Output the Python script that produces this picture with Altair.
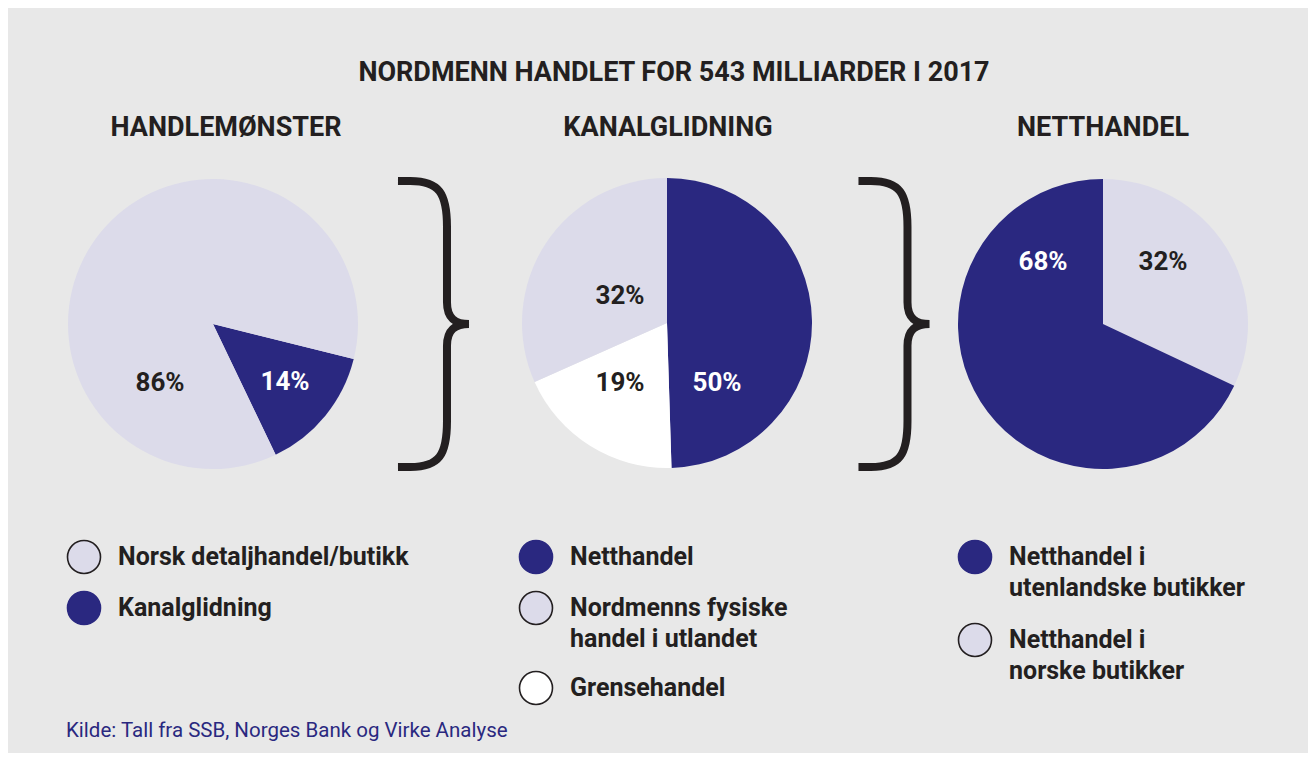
import math
import altair as alt
import pandas as pd

# ---------------- data ----------------
TITLE = "NORDMENN HANDLET FOR 543 MILLIARDER I 2017"
HEADINGS = ["HANDLEMØNSTER", "KANALGLIDNING", "NETTHANDEL"]

PIE1_CATS = ["Kanalglidning", "Norsk detaljhandel/butikk"]
PIE1_VALUES = [14, 86]

PIE2_CATS = ["Netthandel", "Grensehandel", "Nordmenns fysiske\nhandel i utlandet"]
PIE2_VALUES = [50, 19, 32]

PIE3_CATS = ["Netthandel i\nnorske butikker", "Netthandel i\nutenlandske butikker"]
PIE3_VALUES = [32, 68]

LEGEND1 = ["Norsk detaljhandel/butikk", "Kanalglidning"]
LEGEND2 = ["Netthandel", "Nordmenns fysiske\nhandel i utlandet", "Grensehandel"]
LEGEND3 = ["Netthandel i\nutenlandske butikker", "Netthandel i\nnorske butikker"]

SOURCE = "Kilde: Tall fra SSB, Norges Bank og Virke Analyse"

# ---------------- styles ----------------
BG = "#e8e8e8"
NAVY = "#2a2880"
LAV = "#dcdbea"
WHITE = "#ffffff"
INK = "#231f20"
FONT = "Roboto"

W, H = 1300, 745
R = 145

COLOR_OF = {
    "Kanalglidning": NAVY,
    "Norsk detaljhandel/butikk": LAV,
    "Netthandel": NAVY,
    "Grensehandel": WHITE,
    "Nordmenns fysiske\nhandel i utlandet": LAV,
    "Netthandel i\nnorske butikker": LAV,
    "Netthandel i\nutenlandske butikker": NAVY,
}

# layout: (cats, values, center, start angle in degrees, label positions)
PIES = [
    (PIE1_CATS, PIE1_VALUES, (205, 316), 104, [(277, 374), (152, 375)]),
    (PIE2_CATS, PIE2_VALUES, (659, 315), 0, [(709, 375), (612, 375), (612, 288)]),
    (PIE3_CATS, PIE3_VALUES, (1095, 316), 0, [(1155, 254), (1035, 254)]),
]

layers = []
label_rows = []
for cats, vals, (cx, cy), start, lpos in PIES:
    df = pd.DataFrame({"cat": cats, "value": vals, "order": list(range(len(cats)))})
    a0 = math.radians(start)
    layers.append(
        alt.Chart(df)
        .mark_arc(outerRadius=R, strokeWidth=0)
        .encode(
            theta=alt.Theta("value:Q", stack=True,
                            scale=alt.Scale(range=[a0, a0 + 2 * math.pi])),
            color=alt.Color("cat:N", scale=alt.Scale(domain=cats,
                            range=[COLOR_OF[c] for c in cats]), legend=None),
            order=alt.Order("order:Q"),
            x=alt.value(cx),
            y=alt.value(cy),
        )
    )
    for c, v, (px, py) in zip(cats, vals, lpos):
        label_rows.append({"px": px, "py": py, "text": f"{v}%",
                           "tc": WHITE if COLOR_OF[c] == NAVY else INK})

labels = pd.DataFrame(label_rows)
layers.append(
    alt.Chart(labels)
    .mark_text(font=FONT, fontWeight="bold", fontSize=26, baseline="middle", align="center")
    .encode(x=alt.X("px:Q", scale=None), y=alt.Y("py:Q", scale=None),
            text="text:N", color=alt.Color("tc:N", scale=None))
)

# titles
titles = pd.DataFrame({
    "px": [666, 218, 660, 1095],
    "py": [65, 120, 120, 120],
    "text": [TITLE] + HEADINGS,
})
layers.append(
    alt.Chart(titles)
    .mark_text(font=FONT, fontWeight="bold", fontSize=27, color=INK,
               baseline="middle", align="center")
    .encode(x=alt.X("px:Q", scale=None), y=alt.Y("py:Q", scale=None), text="text:N")
)

# braces (custom path symbol)
BRACE = ("M -0.245 -0.986 L -0.16 -0.986 C 0.04 -0.986 0.093 -0.9 0.093 -0.67 "
         "L 0.093 -0.15 C 0.093 -0.04 0.15 0 0.245 0 "
         "C 0.15 0 0.093 0.04 0.093 0.15 L 0.093 0.67 "
         "C 0.093 0.9 0.04 0.986 -0.16 0.986 L -0.245 0.986")
braces = pd.DataFrame({"px": [425.5, 886], "py": [316, 316]})
layers.append(
    alt.Chart(braces)
    .mark_point(shape=BRACE, size=290 * 290, filled=False, stroke=INK,
                strokeWidth=8, opacity=1, strokeCap="butt")
    .encode(x=alt.X("px:Q", scale=None), y=alt.Y("py:Q", scale=None))
)

# legends
leg_rows = []
for items, (lx, ys) in [
    (LEGEND1, (76, [549, 600])),
    (LEGEND2, (528, [549, 600, 680])),
    (LEGEND3, (967, [549, 632])),
]:
    for name, y in zip(items, ys):
        key = None
        for k in COLOR_OF:
            if k.replace("\n", " ") == name.replace("\n", " "):
                key = k
        fill = COLOR_OF[key]
        leg_rows.append({"px": lx, "py": y, "tx": lx + 34, "text": name,
                         "fill": fill, "stroke": NAVY if fill == NAVY else INK})
leg = pd.DataFrame(leg_rows)
layers.append(
    alt.Chart(leg)
    .mark_point(shape="circle", size=33 * 33, filled=True, strokeWidth=1.6, opacity=1)
    .encode(x=alt.X("px:Q", scale=None), y=alt.Y("py:Q", scale=None),
            fill=alt.Fill("fill:N", scale=None),
            stroke=alt.Stroke("stroke:N", scale=None))
)
layers.append(
    alt.Chart(leg)
    .mark_text(font=FONT, fontWeight="bold", fontSize=25, color=INK,
               baseline="middle", align="left", lineBreak="\n", lineHeight=31)
    .encode(x=alt.X("tx:Q", scale=None), y=alt.Y("py:Q", scale=None), text="text:N")
)

# source
src = pd.DataFrame({"px": [58], "py": [723], "text": [SOURCE]})
layers.append(
    alt.Chart(src)
    .mark_text(font=FONT, fontSize=20.5, color=NAVY, baseline="middle", align="left")
    .encode(x=alt.X("px:Q", scale=None), y=alt.Y("py:Q", scale=None), text="text:N")
)

chart = (
    alt.layer(*layers)
    .resolve_scale(theta="independent", color="independent")
    .properties(width=W, height=H, background=BG, padding=0,
                autosize=alt.AutoSizeParams(type="none"))
    .configure_view(stroke=None)
)

chart.save("out.html", embed_options={"renderer": "svg", "actions": False})
